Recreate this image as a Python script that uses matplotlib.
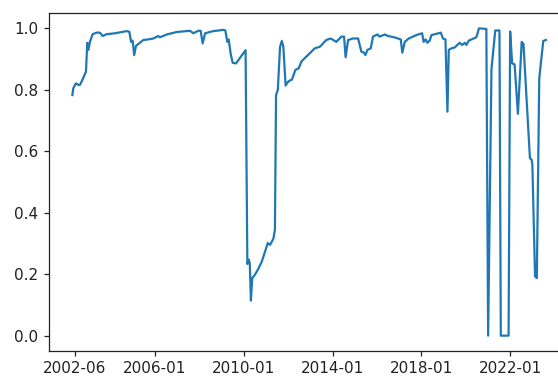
import matplotlib
matplotlib.use("Agg")
import matplotlib.pyplot as plt

# time as decimal year, value of the series
years = [
    2002.30, 2002.34, 2002.46, 2002.57, 2002.64, 2002.76, 2002.91, 2002.97,
    2003.02, 2003.09, 2003.21, 2003.39, 2003.54, 2003.66, 2003.84, 2004.22,
    2004.74, 2004.86, 2004.94, 2005.01, 2005.08, 2005.16, 2005.49, 2005.71,
    2005.94, 2006.16, 2006.24, 2006.54, 2006.99, 2007.59, 2007.74, 2007.96,
    2008.07, 2008.16, 2008.27, 2008.64, 2009.09, 2009.18, 2009.27, 2009.33,
    2009.42, 2009.51, 2009.66, 2010.09, 2010.17, 2010.24, 2010.28, 2010.33,
    2010.39, 2010.51, 2010.64, 2010.82, 2011.09, 2011.19, 2011.34, 2011.41,
    2011.46, 2011.54, 2011.64, 2011.72, 2011.79, 2011.89, 2012.01, 2012.18,
    2012.33, 2012.48, 2012.60, 2012.75, 2012.98, 2013.20, 2013.43, 2013.72,
    2013.92, 2014.17, 2014.40, 2014.52, 2014.59, 2014.70, 2014.92, 2015.15,
    2015.30, 2015.42, 2015.48, 2015.57, 2015.72, 2015.82, 2016.02, 2016.12,
    2016.35, 2016.50, 2016.77, 2017.07, 2017.14, 2017.25, 2017.43, 2017.77,
    2018.03, 2018.10, 2018.19, 2018.27, 2018.37, 2018.45, 2018.87, 2018.97,
    2019.08, 2019.17, 2019.23, 2019.35, 2019.50, 2019.72, 2019.83, 2019.95,
    2020.02, 2020.13, 2020.47, 2020.59, 2020.92, 2021.00, 2021.15, 2021.32,
    2021.51, 2021.57, 2021.92, 2021.99, 2022.08, 2022.19, 2022.34, 2022.51,
    2022.59, 2022.88, 2022.96, 2022.99, 2023.11, 2023.19, 2023.30, 2023.48,
    2023.60,
]
values = [
    0.782, 0.804, 0.820, 0.815, 0.815, 0.833, 0.858, 0.952,
    0.929, 0.955, 0.980, 0.985, 0.985, 0.974, 0.980, 0.983,
    0.990, 0.988, 0.955, 0.959, 0.912, 0.942, 0.961, 0.963,
    0.966, 0.974, 0.970, 0.979, 0.987, 0.991, 0.983, 0.991,
    0.991, 0.950, 0.983, 0.990, 0.994, 0.992, 0.955, 0.963,
    0.916, 0.887, 0.885, 0.928, 0.233, 0.247, 0.233, 0.114,
    0.187, 0.198, 0.214, 0.241, 0.301, 0.295, 0.315, 0.344,
    0.782, 0.799, 0.939, 0.958, 0.939, 0.813, 0.826, 0.833,
    0.864, 0.869, 0.891, 0.902, 0.918, 0.934, 0.939, 0.961,
    0.966, 0.955, 0.972, 0.972, 0.905, 0.961, 0.966, 0.966,
    0.923, 0.920, 0.912, 0.929, 0.934, 0.972, 0.979, 0.972,
    0.979, 0.974, 0.970, 0.963, 0.920, 0.955, 0.966, 0.977,
    0.983, 0.955, 0.963, 0.952, 0.959, 0.977, 0.985, 0.966,
    0.963, 0.728, 0.929, 0.934, 0.937, 0.952, 0.945, 0.952,
    0.945, 0.959, 0.970, 0.999, 0.997, 0.000, 0.866, 0.992,
    0.992, 0.000, 0.000, 0.989, 0.885, 0.882, 0.721, 0.955,
    0.948, 0.577, 0.571, 0.555, 0.193, 0.187, 0.837, 0.958,
    0.961,
]

tick_pos = [2002.417, 2006.0, 2010.0, 2014.0, 2018.0, 2022.0]
tick_labels = ["2002-06", "2006-01", "2010-01", "2014-01", "2018-01", "2022-01"]

fig = plt.figure(figsize=(5.58, 3.76), dpi=100)
ax = fig.add_axes([0.0873, 0.0665, 0.9335, 0.899])

ax.plot(years, values, color="#1f77b4", linewidth=1.6)

ax.set_xticks(tick_pos)
ax.set_xticklabels(tick_labels)
ax.set_yticks([0.0, 0.2, 0.4, 0.6, 0.8, 1.0])
ax.tick_params(labelsize=11, length=3.8, width=0.9, colors="#222222")
for s in ax.spines.values():
    s.set_linewidth(0.9)
    s.set_color("#222222")

fig.savefig("out.png", dpi=100)
